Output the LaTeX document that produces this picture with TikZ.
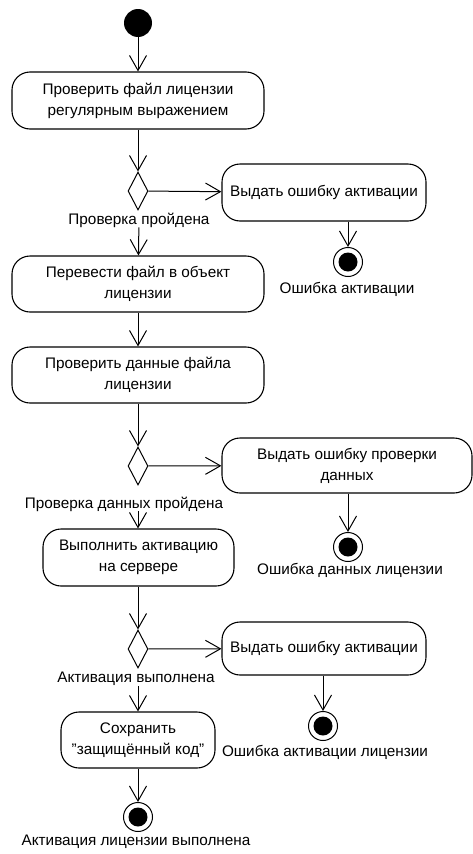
\documentclass[tikz,border=0pt]{standalone}
\usepackage{fontspec}
\setmainfont{Liberation Sans}
\usetikzlibrary{arrows.meta,shapes.geometric}

\begin{document}
\begin{tikzpicture}[x=1pt,y=-1pt,
	font=\fontsize{15.3}{21}\selectfont,
	act/.style={draw,line width=1.1pt,rounded corners=18pt,align=center,inner sep=0pt},
	decision/.style={draw,diamond,line width=1pt,minimum width=20pt,minimum height=38pt,inner sep=0pt},
	flow/.style={line width=1pt,-{Straight Barb[length=15pt,width=17pt,line width=1pt]}},
	final/.style={circle,draw,line width=1pt,minimum size=29pt,inner sep=0pt,
		path picture={\fill (path picture bounding box.center) circle (9.5pt);}},
	lbl/.style={inner sep=0pt}]
	\useasboundingbox (0,0) rectangle (473,854);

	% start and license file check
	\node[circle,fill,minimum size=28pt,inner sep=0pt] (start) at (138,23) {};
	\node[act,minimum width=252pt,minimum height=57pt] (regex) at (138,100.5) {Проверить файл лицензии\\регулярным выражением};
	\node[decision] (d1) at (138,191) {};
	\node[act,minimum width=204pt,minimum height=57pt] (err1) at (324,192.5) {Выдать ошибку активации};
	\node[final] (fin1) at (348,262) {};
	\node[lbl] (finlbl1) at (347,289) {Ошибка активации};
	\node[lbl] (pass1) at (139,220) {Проверка пройдена};

	% parse and check data
	\node[act,minimum width=252pt,minimum height=56pt] (parse) at (138,284) {Перевести файл в объект\\лицензии};
	\node[act,minimum width=252pt,minimum height=56pt] (check) at (138,375) {Проверить данные файла\\лицензии};
	\node[decision] (d2) at (138,466) {};
	\node[act,minimum width=250pt,minimum height=55pt] (err2) at (347,465.5) {Выдать ошибку проверки\\данных};
	\node[final] (fin2) at (348,547) {};
	\node[lbl] (finlbl2) at (350,570) {Ошибка данных лицензии};
	\node[lbl] (pass2) at (124,504) {Проверка данных пройдена};

	% server activation
	\node[act,minimum width=191pt,minimum height=57pt] (server) at (138.5,557.5) {Выполнить активацию\\на сервере};
	\node[decision] (d3) at (138,649) {};
	\node[act,minimum width=204pt,minimum height=53pt] (err3) at (324,648.5) {Выдать ошибку активации};
	\node[final] (fin3) at (323,726) {};
	\node[lbl] (finlbl3) at (325,752) {Ошибка активации лицензии};
	\node[lbl] (pass3) at (136,679) {Активация выполнена};
	\node[act,minimum width=154pt,minimum height=56pt] (save) at (138,740) {Сохранить\\"защищённый код"};
	\node[final] (fin4) at (138,817) {};
	\node[lbl] (finlbl4) at (136,842) {Активация лицензии выполнена};

	% transitions
	\draw[flow] (start) -- (regex);
	\draw[flow] (regex) -- (d1);
	\draw[flow] (d1) -- (err1);
	\draw[flow] (err1.south -| fin1) -- (fin1);
	\draw[flow] (pass1) -- (parse);
	\draw[flow] (parse) -- (check);
	\draw[flow] (check) -- (d2);
	\draw[flow] (d2) -- (err2);
	\draw[flow] (err2.south -| fin2) -- (fin2);
	\draw[flow] (pass2.south -| d2) -- (server.north -| d2);
	\draw[flow] (server.south -| d3) -- (d3);
	\draw[flow] (d3) -- (err3);
	\draw[flow] (err3.south -| fin3) -- (fin3);
	\draw[flow] (pass3.south -| save) -- (save);
	\draw[flow] (save) -- (fin4);
\end{tikzpicture}
\end{document}
